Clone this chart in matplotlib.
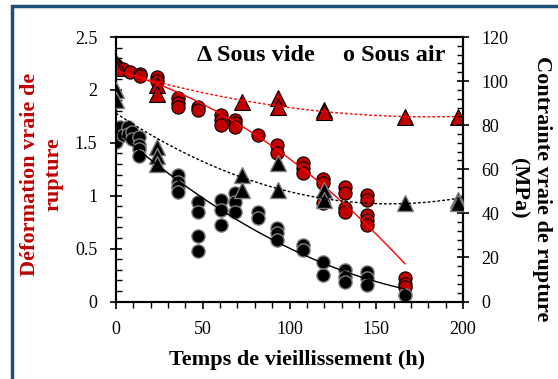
import matplotlib
matplotlib.use('Agg')
import matplotlib.pyplot as plt
import numpy as np
from matplotlib.patches import Rectangle
from matplotlib.ticker import MultipleLocator

plt.rcParams['font.family'] = 'Liberation Serif'

# sous air - deformation (left axis)
t_air_def = [0, 0, 2, 4, 8, 14, 14, 23.5, 23.5, 36, 36, 36, 47.5, 47.5,
             60.5, 60.5, 60.5, 68.5, 68.5, 68.5, 82, 93, 93, 108, 108, 108,
             119.5, 119.5, 119.5, 132, 132, 132, 132,
             144.5, 144.5, 144.5, 144.5, 144.5, 166.5, 166.5, 166.5]
air_def = [2.24, 2.22, 2.21, 2.20, 2.17, 2.15, 2.13, 2.12, 2.08, 1.92, 1.88, 1.84, 1.84, 1.81,
           1.76, 1.72, 1.67, 1.72, 1.69, 1.65, 1.57, 1.48, 1.40, 1.31, 1.26, 1.21,
           1.16, 1.12, 0.93, 1.08, 1.03, 0.88, 0.85,
           1.01, 0.96, 0.82, 0.77, 0.72, 0.22, 0.17, 0.14]

# sous vide - deformation (left axis)
t_vide_def = [0, 0, 23.5, 23.5, 72.5, 93.5, 93.5, 120, 120, 166.5, 197]
vide_def = [2.25, 2.21, 2.05, 1.96, 1.89, 1.92, 1.84, 1.81, 1.79, 1.74, 1.74]

# sous air - contrainte MPa (right axis)
t_air_sig = [0, 0, 0, 2.5, 4, 7, 7, 9, 9, 13.5, 13.5, 13.5, 13.5,
             36, 36, 36, 36, 47.5, 47.5, 47.5, 47.5, 60.5, 60.5, 60.5,
             68.5, 68.5, 68.5, 82, 82, 93, 93, 93, 108, 108,
             119.5, 119.5, 132, 132, 132, 144.5, 144.5, 144.5, 166.5]
air_sig = [78, 75, 72.5, 79, 75.5, 79, 76, 77, 73.5, 74.5, 71, 69, 66,
           57.5, 54, 52, 49.5, 45, 40.5, 29.5, 23, 46, 41.5, 34.5,
           49, 45, 40.5, 40.5, 38, 33.3, 31, 28, 25.5, 23.5,
           18, 12, 14.3, 11, 8.8, 13.4, 10.7, 7.5, 3]

# sous vide - contrainte MPa (right axis)
t_vide_sig = [0, 0, 23.5, 23.5, 23.5, 72.5, 72.5, 93.5, 93.5, 120, 120, 166.5, 197, 197]
vide_sig = [96, 91.5, 70, 66, 62.5, 57.5, 50.5, 63, 50.5, 50.5, 46, 44.7, 46, 44.7]

red = '#C00000'

fig = plt.figure(figsize=(5.58, 3.79), dpi=100)
ax = fig.add_axes([116/558, 1-301.5/379, 347/558, 264.5/379])
ax2 = ax.twinx()

ax.plot(t_air_def, air_def, 'o', ms=9.5, mfc=red, mec='black', mew=0.8, ls='none', zorder=2)
ax.plot(t_vide_def, vide_def, '^', ms=12, mfc=red, mec='black', mew=0.8, ls='none', zorder=3)
ax2.plot(t_air_sig, air_sig, 'o', ms=9.5, mfc='black', mec='#7f7f7f', mew=1.0, ls='none', zorder=2)
ax2.plot(t_vide_sig, vide_sig, '^', ms=12, mfc='black', mec='#7f7f7f', mew=1.0, ls='none', zorder=3)

# polynomial trend lines (order 2)
tt = np.linspace(0, max(t_air_def), 200)
ax.plot(tt, np.polyval(np.polyfit(t_air_def, air_def, 2), tt), color='red', lw=1, zorder=4)
tt = np.linspace(0, 200, 200)
ax.plot(tt, np.polyval(np.polyfit(t_vide_def, vide_def, 2), tt), color='red', lw=1, ls=(0, (2, 1.5)), zorder=4)
tt = np.linspace(0, max(t_air_sig), 200)
ax2.plot(tt, np.polyval(np.polyfit(t_air_sig, air_sig, 2), tt), color='black', lw=1, zorder=4)
tt = np.linspace(0, 200, 200)
ax2.plot(tt, np.polyval(np.polyfit(t_vide_sig, vide_sig, 2), tt), color='black', lw=1, ls=(0, (2, 1.5)), zorder=4)

ax.set_xlim(0, 200)
ax.set_ylim(0, 2.5)
ax2.set_ylim(0, 120)
ax.xaxis.set_major_locator(MultipleLocator(50))
ax.xaxis.set_minor_locator(MultipleLocator(10))
ax.yaxis.set_major_locator(MultipleLocator(0.5))
ax.yaxis.set_minor_locator(MultipleLocator(0.1))
ax2.yaxis.set_major_locator(MultipleLocator(20))
ax2.yaxis.set_minor_locator(MultipleLocator(4))
ax.set_yticks([0, 0.5, 1, 1.5, 2, 2.5])
ax.set_yticklabels(['0', '0.5', '1', '1.5', '2', '2.5'])

ax.tick_params(axis='x', which='major', direction='out', length=5, width=1.2, labelsize=13, pad=9)
ax.tick_params(axis='x', which='minor', direction='out', length=4, width=1)
ax.tick_params(axis='y', which='major', direction='inout', length=9, width=1.2, labelsize=13, pad=9)
ax.tick_params(axis='y', which='minor', direction='in', length=4, width=1)
ax2.tick_params(axis='y', which='major', direction='inout', length=9, width=1.2, labelsize=13, pad=9)
ax2.tick_params(axis='y', which='minor', direction='in', length=4, width=1)
for a in (ax, ax2):
    for s in a.spines.values():
        s.set_linewidth(1.5)

ax2.text(0.233, 0.93, '\u0394 Sous vide', transform=ax.transAxes, fontsize=17.5,
         fontweight='bold', va='center', ha='left')
ax2.text(0.654, 0.93, 'o Sous air', transform=ax.transAxes, fontsize=17.5,
         fontweight='bold', va='center', ha='left')

fig.text(42/558, 1-174.5/379, 'Déformation vraie de\nrupture', rotation=90, color=red,
         fontsize=16, fontweight='bold', ha='center', va='center', multialignment='center')
fig.text(530/558, 1-188.5/379, 'Contrainte vraie de rupture\n(MPa)', rotation=270,
         fontsize=16, fontweight='bold', ha='center', va='center', multialignment='center')
fig.text(297.5/558, 1-360/379, 'Temps de vieillissement (h)', fontsize=16,
         fontweight='bold', ha='center', va='center')

fig.add_artist(Rectangle((12/558, -0.2), 2, 1.2 - 6/379, transform=fig.transFigure,
                         fill=False, edgecolor='#1F4E79', lw=2.5, clip_on=False))

fig.savefig('out.png', dpi=100)
